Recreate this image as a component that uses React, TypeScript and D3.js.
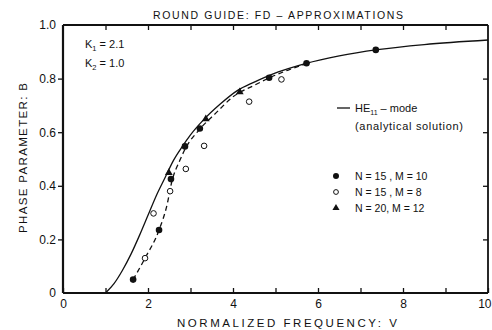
import React, { useEffect, useRef } from "react";
import * as d3 from "d3";

// Analytical HE11 solution (solid curve)
const solidV = [1.0, 1.2, 1.4, 1.6, 1.8, 2.0, 2.2, 2.4, 2.6, 2.8, 3.0, 3.3, 3.7, 4.1, 4.5, 4.9, 5.3, 5.7, 6.5, 7.4, 8.5, 10];
const solidB = [0, 0.035, 0.085, 0.145, 0.215, 0.29, 0.365, 0.43, 0.495, 0.545, 0.59, 0.645, 0.705, 0.755, 0.787, 0.815, 0.837, 0.856, 0.885, 0.908, 0.927, 0.944];

// FD approximation (dashed curve)
const dashV = [1.65, 1.93, 2.26, 2.45, 2.56, 2.75, 2.9, 3.2, 3.6, 4.0, 4.5, 4.9, 5.3, 5.7];
const dashB = [0.05, 0.13, 0.235, 0.33, 0.415, 0.495, 0.545, 0.608, 0.672, 0.732, 0.775, 0.806, 0.832, 0.854];

// N=15, M=10 (filled circles)
const filledV = [1.65, 2.26, 2.54, 2.87, 3.22, 4.85, 5.73, 7.36];
const filledB = [0.05, 0.235, 0.425, 0.547, 0.614, 0.803, 0.857, 0.907];

// N=15, M=8 (open circles)
const openV = [1.93, 2.13, 2.52, 2.89, 3.32, 4.38, 5.14];
const openB = [0.13, 0.297, 0.38, 0.463, 0.549, 0.714, 0.797];

// N=20, M=12 (triangles)
const triV = [2.49, 3.36, 4.16];
const triB = [0.449, 0.649, 0.75];

const xTicks = [0, 1, 2, 3, 4, 5, 6, 7, 8, 9, 10];
const yTicks = [0, 0.2, 0.4, 0.6, 0.8, 1.0];
const yTickLabels = ["0", "0.2", "0.4", "0.6", "0.8", "1.0"];

const W = 492, H = 330;
const M = { left: 63, top: 25, right: 4, bottom: 37 };
const FONT = "'Liberation Sans', Arial, sans-serif";

export default function App() {
  const ref = useRef<SVGSVGElement>(null);

  useEffect(() => {
    const svg = d3.select(ref.current);
    svg.selectAll("*").remove();
    const x = d3.scaleLinear().domain([0, 10]).range([M.left, W - M.right]);
    const y = d3.scaleLinear().domain([0, 1]).range([H - M.bottom, M.top]);
    const x0 = x(0), x1 = x(10), y0 = y(0), y1 = y(1);

    // Axes
    const bottom = svg.append("g").attr("transform", `translate(0,${y0})`)
      .call(d3.axisBottom(x).tickValues(xTicks).tickSize(-5).tickSizeOuter(0).tickPadding(6)
        .tickFormat((d: any) => (d % 2 === 0 ? String(d) : "")));
    const top = svg.append("g").attr("transform", `translate(0,${y1})`)
      .call(d3.axisTop(x).tickValues(xTicks.slice(1, 10)).tickSize(-5).tickSizeOuter(0).tickFormat(() => ""));
    const left = svg.append("g").attr("transform", `translate(${x0},0)`)
      .call(d3.axisLeft(y).tickValues(yTicks).tickSize(5).tickSizeOuter(0).tickPadding(2)
        .tickFormat((d: any, i: number) => (d === 0 ? "0" : yTickLabels[i])));
    const right = svg.append("g").attr("transform", `translate(${x1},0)`)
      .call(d3.axisRight(y).tickValues(yTicks.slice(1, 5)).tickSize(-5).tickSizeOuter(0).tickFormat(() => ""));
    [bottom, top, left, right].forEach((g) => {
      g.select(".domain").remove();
      g.selectAll("line").attr("stroke", "#111").attr("stroke-width", 1.3);
      g.selectAll("text").attr("font-family", FONT).attr("font-size", 12).attr("fill", "#111");
    });
    left.selectAll(".tick").filter((d: any) => d === 0 || d === 1).select("line").remove();
    bottom.selectAll(".tick").filter((d: any) => d === 10).select("text")
      .attr("text-anchor", "end").attr("x", W - x1 - 1);

    // Frame
    svg.append("line").attr("x1", x0).attr("x2", x0).attr("y1", y1).attr("y2", y0).attr("stroke", "#111").attr("stroke-width", 2.2);
    svg.append("line").attr("x1", x0).attr("x2", x1).attr("y1", y0).attr("y2", y0).attr("stroke", "#111").attr("stroke-width", 2.2);
    svg.append("line").attr("x1", x0).attr("x2", x1).attr("y1", y1).attr("y2", y1).attr("stroke", "#111").attr("stroke-width", 1.8);
    svg.append("line").attr("x1", x1).attr("x2", x1).attr("y1", y1).attr("y2", y0).attr("stroke", "#111").attr("stroke-width", 1.8);

    // Curves
    const line = d3.line<[number, number]>().x((d) => x(d[0])).y((d) => y(d[1])).curve(d3.curveMonotoneX);
    svg.append("path").attr("d", line(solidV.map((v, i) => [v, solidB[i]]) as any))
      .attr("fill", "none").attr("stroke", "#111").attr("stroke-width", 1.3);
    svg.append("path").attr("d", line(dashV.map((v, i) => [v, dashB[i]]) as any))
      .attr("fill", "none").attr("stroke", "#111").attr("stroke-width", 1.3).attr("stroke-dasharray", "5,3.5");

    // Markers
    filledV.forEach((v, i) => svg.append("circle").attr("cx", x(v)).attr("cy", y(filledB[i])).attr("r", 3.3).attr("fill", "#111"));
    openV.forEach((v, i) => svg.append("circle").attr("cx", x(v)).attr("cy", y(openB[i])).attr("r", 2.8).attr("fill", "#fff").attr("stroke", "#111").attr("stroke-width", 1));
    const tri = d3.symbol().type(d3.symbolTriangle).size(26);
    triV.forEach((v, i) => svg.append("path").attr("d", tri() as string).attr("transform", `translate(${x(v)},${y(triB[i])})`).attr("fill", "#111"));

    const txt = (tx: number, ty: number, size: number) =>
      svg.append("text").attr("x", tx).attr("y", ty).attr("font-family", FONT).attr("font-size", size).attr("fill", "#111");

    // Title and axis labels
    txt(153, 19, 10.5).attr("textLength", 250).attr("lengthAdjust", "spacing").text("ROUND GUIDE: FD – APPROXIMATIONS");
    txt(177, 327, 11.5).attr("textLength", 220).attr("lengthAdjust", "spacing").text("NORMALIZED FREQUENCY: V");
    svg.append("text").attr("transform", `translate(27,233) rotate(-90)`).attr("font-family", FONT).attr("font-size", 11.5)
      .attr("fill", "#111").attr("textLength", 150).attr("lengthAdjust", "spacing").text("PHASE PARAMETER: B");

    // K labels
    const k1 = txt(85, 48, 11);
    k1.append("tspan").text("K");
    k1.append("tspan").attr("font-size", 7.5).attr("dy", 2.5).text("1");
    k1.append("tspan").attr("dy", -2.5).text(" = 2.1");
    const k2 = txt(85, 67, 11);
    k2.append("tspan").text("K");
    k2.append("tspan").attr("font-size", 7.5).attr("dy", 2.5).text("2");
    k2.append("tspan").attr("dy", -2.5).text(" = 1.0");

    // Legend
    svg.append("line").attr("x1", 337).attr("x2", 350).attr("y1", 108).attr("y2", 108).attr("stroke", "#111").attr("stroke-width", 1.3);
    const he = txt(355, 112, 11);
    he.append("tspan").text("HE");
    he.append("tspan").attr("font-size", 7).attr("dy", 3).text("11");
    he.append("tspan").attr("dy", -3).text(" – mode");
    txt(355, 130, 11).attr("textLength", 108).attr("lengthAdjust", "spacing").text("(analytical solution)");
    svg.append("circle").attr("cx", 336).attr("cy", 176).attr("r", 3).attr("fill", "#111");
    txt(355, 180, 10.5).text("N = 15 ,  M = 10");
    svg.append("circle").attr("cx", 336).attr("cy", 192).attr("r", 2.4).attr("fill", "#fff").attr("stroke", "#111").attr("stroke-width", 1);
    txt(355, 196, 10.5).text("N = 15 ,  M = 8");
    svg.append("path").attr("d", d3.symbol().type(d3.symbolTriangle).size(22)() as string)
      .attr("transform", "translate(336,208)").attr("fill", "#111");
    txt(355, 212, 10.5).text("N = 20,  M = 12");
  }, []);

  return (
    <svg ref={ref} width={W} height={H} style={{ position: "absolute", left: 0, top: 0, background: "#fff" }} />
  );
}
